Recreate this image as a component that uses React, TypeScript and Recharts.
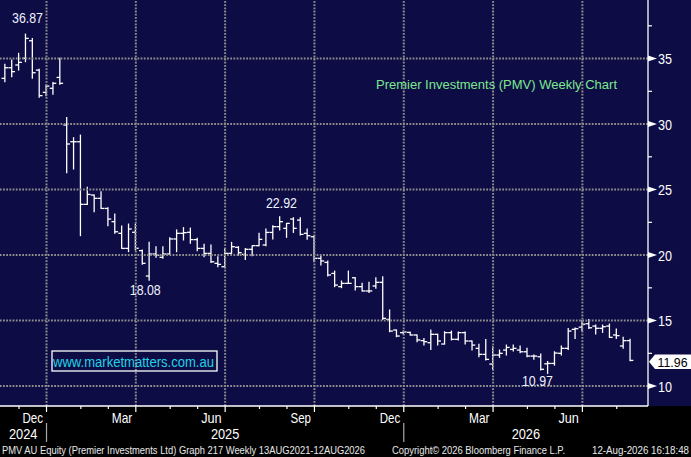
import React from "react";
import {
  ComposedChart,
  Bar,
  XAxis,
  YAxis,
  ReferenceLine,
  ReferenceDot,
} from "recharts";

// Premier Investments (PMV) weekly bars
const open = [
  33.49, 34.3, 34.51, 35.02, 36.36, 34.12, 32.42, 32.73, 33.56, 29.93,
  28.65, 28.65, 23.87, 24.58, 24.33, 23.56, 22.55, 21.66, 20.51, 21.74,
  20.34, 18.4, 20.08, 19.83, 20.08, 21.23, 21.66, 21.74, 21.18, 20.51,
  20.13, 19.37, 19.11, 20.13, 20.59, 20.05, 20.44, 20.72, 20.77, 21.73,
  22.17, 22.04, 22.75, 22.67, 21.66, 21.4, 19.75, 19.44, 18.6, 17.59,
  17.84, 18.27, 17.59, 17.26, 17.64, 17.92, 15.09, 14.28, 14.08, 14.1,
  13.9, 13.47, 13.31, 13.95, 13.21, 14.08, 13.57, 14.08, 13.44, 12.88,
  12.42, 11.68, 12.37, 12.75, 12.8, 12.75, 12.62, 12.29, 12.24, 11.7,
  11.73, 12.5, 12.88, 14.33, 14.5, 14.76, 14.58, 14.41, 14.58, 13.9,
  13.06, 13.47,
];
const high = [
  34.56, 34.89, 35.4, 36.87, 36.54, 34.18, 32.98, 33.18, 35.02, 30.51,
  28.96, 29.16, 25.17, 24.58, 24.84, 23.62, 23.13, 22.22, 22.37, 22.37,
  20.39, 20.97, 20.64, 20.64, 21.33, 21.92, 22.1, 22.06, 21.28, 20.82,
  20.77, 19.88, 20.51, 20.97, 20.64, 20.51, 20.72, 21.66, 21.99, 22.24,
  22.92, 22.42, 22.85, 22.85, 21.99, 21.48, 19.93, 19.55, 18.78, 18.02,
  18.78, 18.27, 17.84, 17.92, 18.27, 18.35, 15.81, 14.28, 14.2, 14.1,
  13.9, 13.64, 14.28, 13.95, 14.15, 14.2, 14.13, 14.13, 13.44, 13.2,
  13.56, 13.0, 12.75, 13.13, 13.13, 13.06, 12.88, 12.37, 12.44, 11.88,
  12.62, 13.06, 14.4, 14.43, 14.98, 15.09, 14.66, 14.66, 14.74, 14.36,
  13.72, 13.57,
];
const low = [
  33.23, 33.62, 34.12, 34.76, 33.49, 32.04, 32.17, 32.27, 33.03, 26.29,
  26.57, 21.48, 23.87, 23.31, 23.56, 22.24, 21.66, 20.51, 20.26, 20.39,
  19.3, 18.08, 19.83, 19.75, 20.08, 20.26, 21.15, 20.9, 20.33, 19.88,
  19.44, 19.11, 19.04, 20.13, 20.0, 19.67, 19.95, 20.72, 20.72, 21.22,
  21.91, 21.35, 21.73, 21.53, 21.2, 19.49, 19.24, 18.4, 17.59, 17.51,
  17.84, 17.33, 17.26, 17.15, 17.46, 15.09, 14.15, 13.77, 13.97, 13.9,
  13.39, 13.13, 12.8, 13.13, 13.21, 13.52, 13.52, 13.21, 12.75, 12.24,
  11.99, 11.25, 12.19, 12.37, 12.67, 12.55, 12.24, 12.04, 11.22, 10.97,
  11.6, 12.37, 12.8, 13.64, 14.2, 14.4, 13.97, 14.1, 13.72, 13.64,
  12.88, 11.94,
];
const close = [
  34.3, 34.0, 34.71, 36.54, 33.92, 32.17, 32.9, 33.11, 33.11, 28.48,
  28.65, 23.87, 24.63, 24.33, 23.56, 22.75, 21.78, 20.51, 21.99, 20.52,
  19.37, 20.08, 19.98, 20.08, 21.23, 21.66, 21.71, 21.18, 20.51, 20.13,
  19.49, 19.29, 20.13, 20.64, 20.18, 20.44, 20.72, 21.2, 21.73, 22.17,
  22.55, 22.42, 22.04, 21.58, 21.48, 19.75, 19.55, 18.48, 17.71, 17.84,
  17.84, 17.59, 17.26, 17.26, 17.92, 15.17, 14.2, 13.82, 14.13, 13.9,
  13.52, 13.39, 13.95, 13.44, 14.08, 13.57, 14.08, 13.44, 13.13, 12.42,
  12.04, 12.37, 12.5, 12.95, 12.88, 12.62, 12.29, 12.29, 11.28, 11.73,
  12.52, 12.88, 14.2, 14.38, 14.72, 14.45, 14.41, 14.53, 13.72, 13.85,
  13.47, 11.96,
];

// x axis runs in week numbers (1 = first full bar); quarters are 13 weeks
const quarterStarts = [7, 20, 33, 46, 59, 72, 85];
const monthStarts = [
  3, 7, 12, 16, 20, 25, 29, 33, 38, 42, 46, 51, 55, 59, 64, 68, 72, 77, 81, 85, 90,
];
const monthLabels = ["Dec", "Mar", "Jun", "Sep", "Dec", "Mar", "Jun"];
const monthLabelAt = [5, 18, 31, 44, 57, 70, 83];
const yearLabels = ["2024", "2025", "2026"];
const yearBreaks = [7, 59];
const priceLines = [10, 15, 20, 25, 30, 35];
const priceTicks = [10, 12.5, 15, 17.5, 20, 22.5, 25, 27.5, 30, 32.5, 35, 37.5];

// high/low callouts: week number and price
const callouts = [
  { week: 4, price: 36.87 },
  { week: 41, price: 22.92 },
  { week: 22, price: 18.08 },
  { week: 80, price: 10.97 },
];
const calloutOffset = [
  [1.6, -10.7],
  [1.4, -8.8],
  [-4.3, 14.8],
  [-10.6, 12.6],
];

const X_MIN = 0.23;
const X_MAX = 94.55;
const Y_MIN = 8.48;
const Y_MAX = 39.47;

const NAVY = "#0e0c45";
const GRID = "#8c8c8c";
const NARROW = "'Liberation Sans Narrow', 'Liberation Sans', Arial, sans-serif";
const SANS = "'Liberation Sans', Arial, sans-serif";

const rows = open.map((o, k) => ({
  week: k + 1,
  open: o,
  high: high[k],
  low: low[k],
  close: close[k],
}));
const lastClose = close[close.length - 1];

const yearLabelAt = [
  (X_MIN + yearBreaks[0]) / 2,
  (yearBreaks[0] + yearBreaks[1]) / 2,
  (yearBreaks[1] + X_MAX) / 2,
];
const monthAxisTicks = [...monthStarts, ...monthLabelAt].sort((a, b) => a - b);
const yearAxisTicks = [...yearLabelAt, ...yearBreaks].sort((a, b) => a - b);

function OhlcShape(props: any) {
  const { x, y, width, height } = props;
  const d = props.payload ?? props;
  if (x == null || y == null || !d) return null;
  const cx = x + width / 2;
  const top = Math.min(y, y + height);
  const span = Math.abs(height);
  const k = d.high > d.low ? span / (d.high - d.low) : 0;
  const py = (v: number) => top + (d.high - v) * k;
  return (
    <g stroke="#ffffff" strokeWidth={1.3} fill="none">
      <line x1={cx} x2={cx} y1={top - 0.5} y2={top + span + 0.5} />
      <line x1={cx - 3.3} x2={cx} y1={py(d.open)} y2={py(d.open)} />
      <line x1={cx} x2={cx + 3.3} y1={py(d.close)} y2={py(d.close)} />
    </g>
  );
}

function PriceTick(props: any) {
  const { x, y, payload } = props;
  const v = payload.value;
  if (v % 5 !== 0) {
    return <line x1={x} x2={x + 4} y1={y} y2={y} stroke="#fff" strokeWidth={1.2} />;
  }
  return (
    <g>
      <polygon points={`${x},${y - 3} ${x + 9},${y} ${x},${y + 3}`} fill="#fff" />
      <text
        x={x + 10}
        y={y + 5.5}
        fill="#fff"
        fontSize={15}
        fontFamily={NARROW}
        textLength={14}
        lengthAdjust="spacingAndGlyphs"
      >
        {v}
      </text>
    </g>
  );
}

function MonthTick(props: any) {
  const { x, y, payload } = props;
  const v = payload.value;
  const li = monthLabelAt.indexOf(v);
  if (li >= 0) {
    return (
      <text
        x={x}
        y={y + 17}
        textAnchor="middle"
        fill="#fff"
        fontSize={15}
        fontFamily={NARROW}
        textLength={20.5}
        lengthAdjust="spacingAndGlyphs"
      >
        {monthLabels[li]}
      </text>
    );
  }
  const len = quarterStarts.includes(v) ? 6 : 3;
  return <line x1={x} x2={x} y1={y} y2={y + len} stroke="#fff" strokeWidth={1.2} />;
}

function YearTick(props: any) {
  const { x, y, payload } = props;
  const v = payload.value;
  const li = yearLabelAt.indexOf(v);
  if (li >= 0) {
    return (
      <text
        x={x}
        y={y + 12.5}
        textAnchor="middle"
        fill="#fff"
        fontSize={15}
        fontFamily={NARROW}
        textLength={28.5}
        lengthAdjust="spacingAndGlyphs"
      >
        {yearLabels[li]}
      </text>
    );
  }
  return <line x1={x} x2={x} y1={y - 3} y2={y + 16} stroke="#a8a8a8" strokeWidth={1.2} />;
}

function PriceTag({ cx, cy, value }: { cx: number; cy: number; value: number }) {
  const x0 = cx + 1;
  return (
    <g>
      <polygon
        points={`${x0},${cy + 1.3} ${x0 + 6},${cy - 6} ${x0 + 42},${cy - 6} ${x0 + 42},${cy + 8.6} ${x0 + 6},${cy + 8.6}`}
        fill="#ffffff"
      />
      <text
        x={x0 + 38.5}
        y={cy + 6.3}
        textAnchor="end"
        fill="#000"
        fontSize={13.5}
        fontFamily={NARROW}
        textLength={30}
        lengthAdjust="spacingAndGlyphs"
      >
        {value.toFixed(2)}
      </text>
    </g>
  );
}

export default function App() {
  return (
    <div
      style={{
        position: "relative",
        width: 691,
        height: 457,
        background: `linear-gradient(${NAVY} 0, ${NAVY} 406px, #000 406px)`,
      }}
    >
      <style>{`body{margin:0}`}</style>
      <ComposedChart
        width={691}
        height={457}
        data={rows}
        margin={{ top: 0, right: 0, bottom: 9, left: 0 }}
      >
        <XAxis
          dataKey="week"
          type="number"
          domain={[X_MIN, X_MAX]}
          allowDataOverflow
          ticks={monthAxisTicks}
          interval={0}
          height={20}
          tickSize={0}
          tickMargin={0}
          tickLine={false}
          axisLine={{ stroke: "#fff", strokeWidth: 1.3 }}
          tick={<MonthTick />}
        />
        <XAxis
          xAxisId="year"
          dataKey="week"
          type="number"
          domain={[X_MIN, X_MAX]}
          allowDataOverflow
          ticks={yearAxisTicks}
          interval={0}
          height={22}
          tickSize={0}
          tickMargin={0}
          tickLine={false}
          axisLine={false}
          tick={<YearTick />}
        />
        <YAxis
          orientation="right"
          type="number"
          domain={[Y_MIN, Y_MAX]}
          allowDataOverflow
          ticks={priceTicks}
          interval={0}
          width={43}
          tickSize={0}
          tickMargin={0}
          tickLine={false}
          axisLine={{ stroke: "#fff", strokeWidth: 1.3 }}
          tick={<PriceTick />}
        />
        {priceLines.map((p) => (
          <ReferenceLine
            key={`h${p}`}
            y={p}
            stroke={GRID}
            strokeWidth={2}
            strokeDasharray="1.8 1.4"
          />
        ))}
        {quarterStarts.map((q) => (
          <ReferenceLine
            key={`v${q}`}
            x={q}
            stroke={GRID}
            strokeWidth={2}
            strokeDasharray="1.8 1.4"
          />
        ))}
        <Bar
          dataKey={(d: any) => [d.low, d.high]}
          barSize={4}
          shape={(p: any) => <OhlcShape {...p} />}
          isAnimationActive={false}
        />
        {callouts.map((c, k) => (
          <ReferenceDot
            key={`c${k}`}
            x={c.week}
            y={c.price}
            r={0}
            ifOverflow="visible"
            shape={(p: any) => (
              <text
                x={p.cx + calloutOffset[k][0]}
                y={p.cy + calloutOffset[k][1]}
                textAnchor="middle"
                fill="#eef2ff"
                fontSize={15}
                fontFamily={NARROW}
                textLength={31}
                lengthAdjust="spacingAndGlyphs"
              >
                {c.price.toFixed(2)}
              </text>
            )}
          />
        ))}
        <ReferenceDot
          x={X_MAX}
          y={lastClose}
          r={0}
          ifOverflow="visible"
          shape={(p: any) => <PriceTag cx={p.cx} cy={p.cy} value={lastClose} />}
        />
      </ComposedChart>
      <svg
        width={691}
        height={457}
        style={{ position: "absolute", left: 0, top: 0, pointerEvents: "none" }}
      >
        <text
          x={376}
          y={89}
          fill="#7be88c"
          fontSize={13}
          fontFamily={SANS}
          textLength={241}
          lengthAdjust="spacingAndGlyphs"
        >
          Premier Investments (PMV) Weekly Chart
        </text>
        <rect x={52} y={351} width={165} height={20} fill="none" stroke="#fff" strokeWidth={1.3} />
        <text
          x={53}
          y={366.5}
          fill="#22d3e6"
          fontSize={14}
          fontFamily={SANS}
          textLength={161}
          lengthAdjust="spacingAndGlyphs"
        >
          www.marketmatters.com.au
        </text>
        <g fill="#e8e8e8" fontSize={10} fontFamily={NARROW}>
          <text x={2} y={454} textLength={363} lengthAdjust="spacingAndGlyphs">
            PMV AU Equity (Premier Investments Ltd) Graph 217 Weekly 13AUG2021-12AUG2026
          </text>
          <text x={392} y={454} textLength={173} lengthAdjust="spacingAndGlyphs">
            Copyright© 2026 Bloomberg Finance L.P.
          </text>
          <text
            x={689}
            y={454}
            textAnchor="end"
            textLength={97}
            lengthAdjust="spacingAndGlyphs"
          >
            12-Aug-2026 16:18:48
          </text>
        </g>
      </svg>
    </div>
  );
}
